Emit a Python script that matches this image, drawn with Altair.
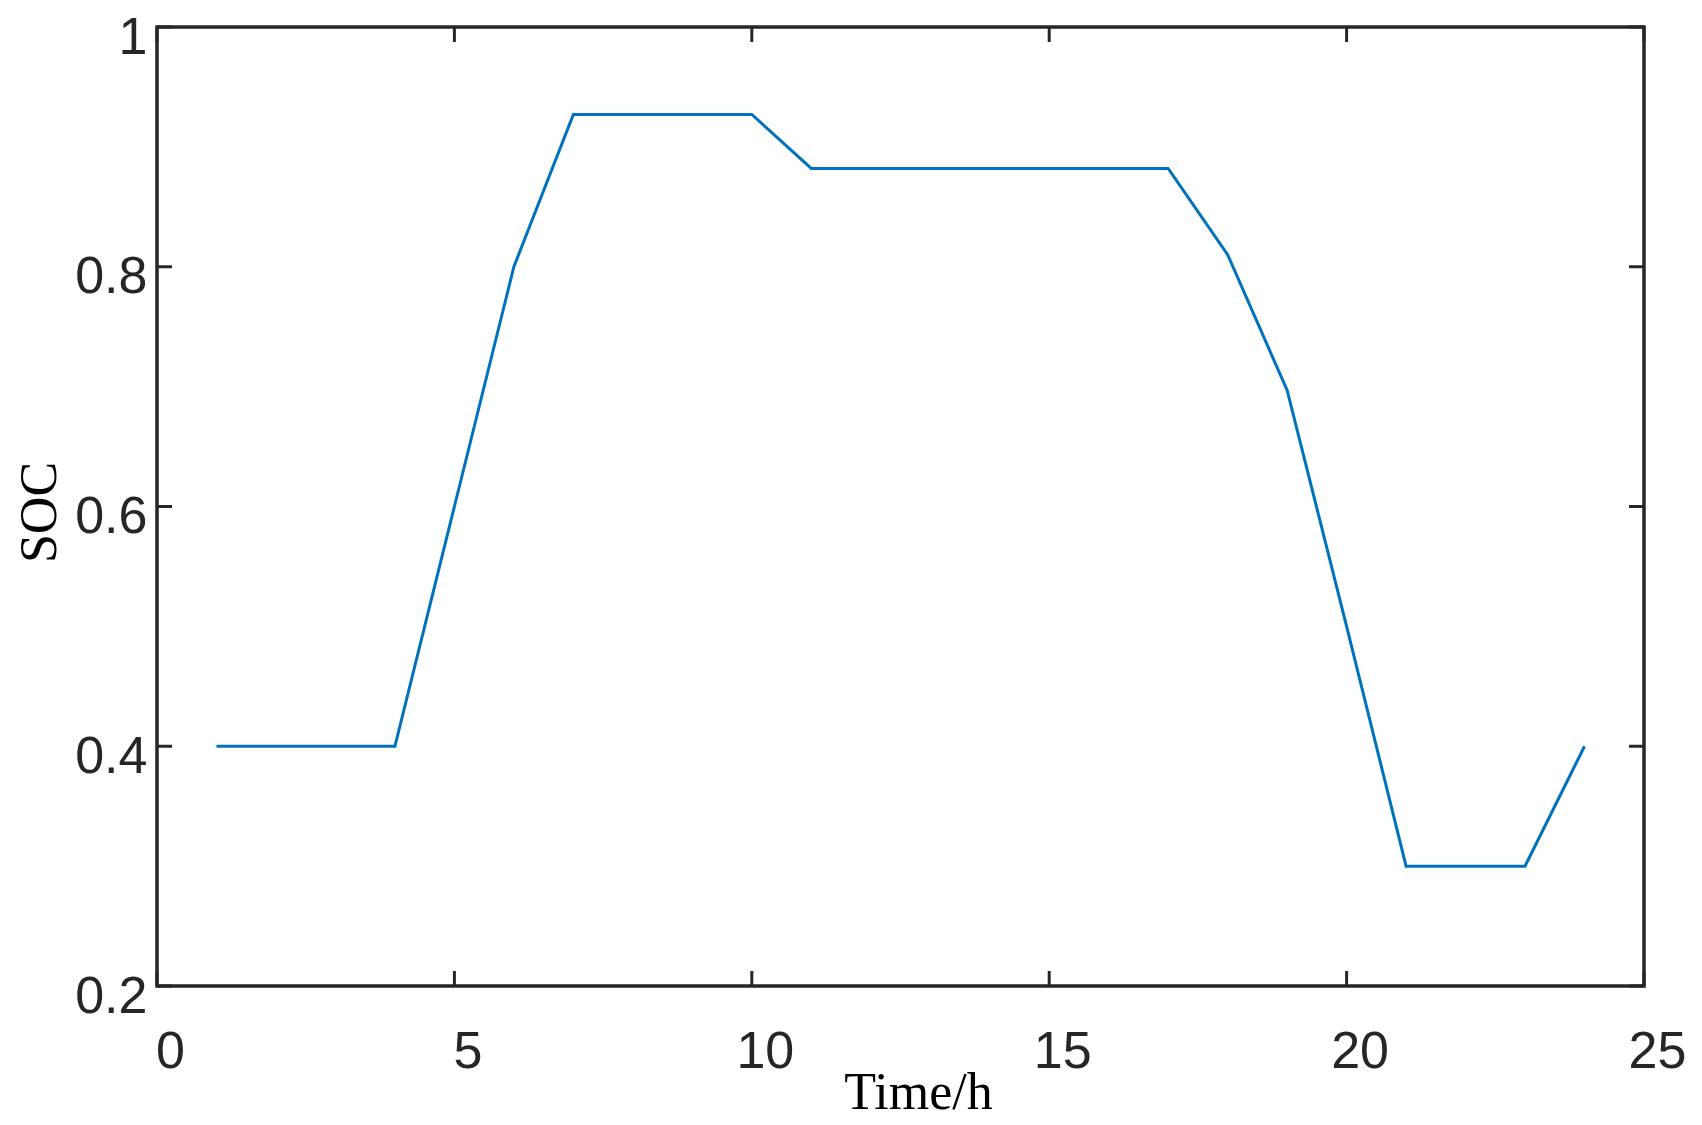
import altair as alt
import pandas as pd

hours = list(range(1, 25))
soc = [0.40, 0.40, 0.40, 0.40, 0.60, 0.80, 0.927, 0.927, 0.927, 0.927,
       0.882, 0.882, 0.882, 0.882, 0.882, 0.882, 0.882, 0.810, 0.697, 0.50,
       0.30, 0.30, 0.30, 0.40]
x_ticks = [0, 5, 10, 15, 20, 25]
y_ticks = [0.2, 0.4, 0.6, 0.8, 1.0]

W, H = 1487, 959
AX = "#262626"
TL = 15

df = pd.DataFrame({"t": hours, "soc": soc})
xt = pd.DataFrame({"v": x_ticks})
yt = pd.DataFrame({"v": y_ticks})

xscale = alt.Scale(domain=[0, 25], nice=False, zero=False)
yscale = alt.Scale(domain=[0.2, 1.0], nice=False, zero=False)

xaxis = alt.Axis(values=x_ticks, format="d", title="Time/h", ticks=False, domain=False,
                 grid=False, labelFont="Liberation Sans", labelFontSize=52,
                 labelColor=AX, labelPadding=40, labelBaseline="top", labelOffset=13,
                 labelFlush=False, labelOverlap=False,
                 titleFont="Liberation Serif", titleFontSize=52, titleFontWeight="normal",
                 titleColor="black", titleBaseline="alphabetic", titleY=122, titleX=761,
                 titleAlign="center", titlePadding=0)
yaxis = alt.Axis(values=y_ticks, format="~g", title="SOC", ticks=False, domain=False,
                 grid=False, labelFont="Liberation Sans", labelFontSize=52,
                 labelColor=AX, labelPadding=10, labelBaseline="middle", labelOffset=10,
                 labelFlush=False, labelOverlap=False,
                 titleFont="Liberation Serif", titleFontSize=52, titleFontWeight="normal",
                 titleColor="black", titleAngle=-90, titleBaseline="alphabetic",
                 titleX=-102, titleY=485, titleAlign="center", titlePadding=0)

line = alt.Chart(df).mark_line(color="#0072BD", strokeWidth=3).encode(
    x=alt.X("t:Q", scale=xscale, axis=xaxis),
    y=alt.Y("soc:Q", scale=yscale, axis=yaxis),
)

bottom_ticks = alt.Chart(xt).mark_rule(color=AX, strokeWidth=3).encode(
    x=alt.X("v:Q", scale=xscale), y=alt.value(H), y2=alt.value(H - TL))
top_ticks = alt.Chart(xt).mark_rule(color=AX, strokeWidth=3).encode(
    x=alt.X("v:Q", scale=xscale), y=alt.value(0), y2=alt.value(TL))
left_ticks = alt.Chart(yt).mark_rule(color=AX, strokeWidth=3).encode(
    y=alt.Y("v:Q", scale=yscale), x=alt.value(0), x2=alt.value(TL))
right_ticks = alt.Chart(yt).mark_rule(color=AX, strokeWidth=3).encode(
    y=alt.Y("v:Q", scale=yscale), x=alt.value(W - TL), x2=alt.value(W))

chart = alt.layer(line, bottom_ticks, top_ticks, left_ticks, right_ticks).properties(
    width=W, height=H,
    autosize=alt.AutoSizeParams(type="none"),
    padding={"left": 149, "top": 19, "right": 50, "bottom": 137},
).configure(background="white").configure_view(stroke=AX, strokeWidth=3.5)

chart.save("out.html", embed_options={"renderer": "svg", "actions": False})
